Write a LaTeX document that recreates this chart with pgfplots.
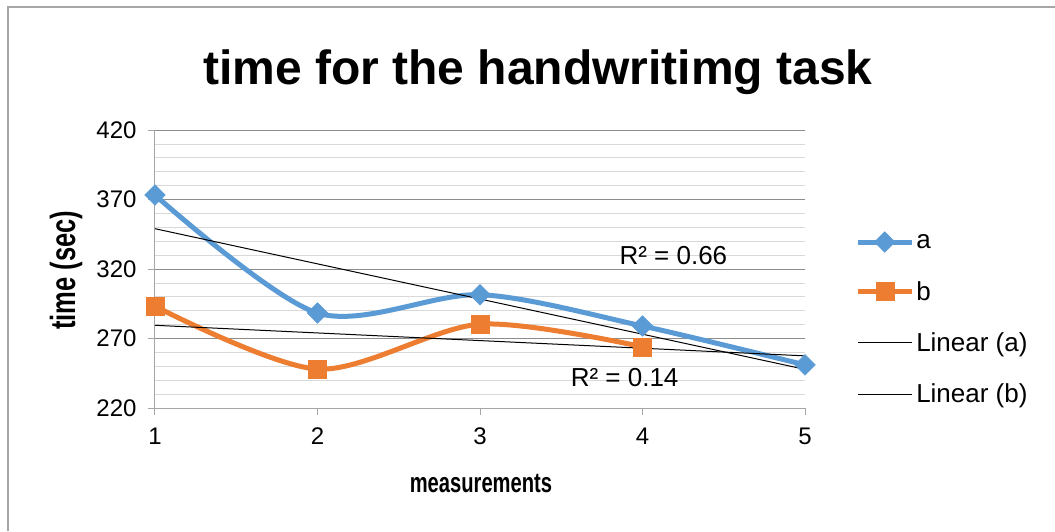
\documentclass[border=0pt]{standalone}
\usepackage{fontspec}
\setmainfont{Liberation Sans}
\usepackage{pgfplots}
\pgfplotsset{compat=1.18}
\definecolor{sa}{RGB}{91,155,213}
\definecolor{sb}{RGB}{237,125,49}
\definecolor{majg}{RGB}{140,140,140}
\definecolor{ming}{RGB}{217,217,217}
\definecolor{axg}{RGB}{166,166,166}
\begin{document}
\begin{tikzpicture}
\useasboundingbox (-155pt,-123pt) rectangle (900pt,408pt);
\draw[axg, line width=1.2pt] (-147pt,-123pt) -- (-147pt,401pt) -- (900pt,401pt);
\begin{axis}[
  scale only axis, width=650pt, height=278pt,
  at={(0pt,0pt)}, anchor=south west,
  xmin=1, xmax=5, ymin=220, ymax=420,
  xtick={1,2,3,4,5},
  ytick={220,270,320,370,420},
  minor y tick num=4,
  ymajorgrids, yminorgrids,
  major grid style={majg, line width=0.8pt},
  minor grid style={ming, line width=0.8pt},
  axis x line*=bottom, axis y line*=left,
  axis line style={axg, line width=1pt, -},
  tick style={axg, line width=1pt},
  major tick length=7pt, minor tick length=0pt,
  tick align=outside,
  /pgf/number format/assume math mode=true,
  tick label style={font=\fontsize{24}{28}\selectfont},
  xticklabel style={yshift=-9pt},
  yticklabel style={xshift=-8pt},
  title={time for the handwritimg task},
  title style={at={(0.589,1.185)}, anchor=center, font=\bfseries\fontsize{48}{53}\selectfont},
  xlabel={\scalebox{0.72}[1]{measurements}},
  xlabel style={at={(0.5015,-0.273)}, anchor=center, font=\bfseries\fontsize{28}{32}\selectfont},
  ylabel={\scalebox{0.73}[1]{time (sec)}},
  ylabel style={at={(-0.137,0.496)}, anchor=center, font=\bfseries\fontsize{35}{40}\selectfont},
  legend style={at={(1.077,0.635)}, anchor=north west, draw=none, fill=none,
    font=\fontsize{26}{30}\selectfont, row sep=27pt,
    legend cell align=left, inner sep=0pt},
  legend image code/.code={\draw[mark repeat=2,mark phase=2,#1] plot coordinates {(0pt,0pt) (27pt,0pt) (54pt,0pt)};},
  clip=false,
]
\addplot[sa, line width=5pt, smooth, tension=0.5, mark=square*, mark size=7.3pt,
  mark options={rotate=45, line width=0.5pt, fill=sa, draw=sa}]
  coordinates {(1,373.2) (2,288.3) (3,301.5) (4,279) (5,251)};
\addlegendentry{a}
\addplot[sb, line width=5pt, smooth, tension=0.5, mark=square*, mark size=9pt,
  mark options={line width=0.5pt, fill=sb, draw=sb}]
  coordinates {(1,293.2) (2,248) (3,280.3) (4,264)};
\addlegendentry{b}
\addplot[black, line width=1pt] coordinates {(1,349.0) (5,247.8)};
\addlegendentry{Linear (a)}
\addplot[black, line width=1pt] coordinates {(1,279.5) (5,257.5)};
\addlegendentry{Linear (b)}
\node[font=\fontsize{26}{30}\selectfont] at (axis cs:4.19,330) {R² = 0.66};
\node[font=\fontsize{26}{30}\selectfont] at (axis cs:3.89,241.6) {R² = 0.14};
\end{axis}
\end{tikzpicture}
\end{document}
